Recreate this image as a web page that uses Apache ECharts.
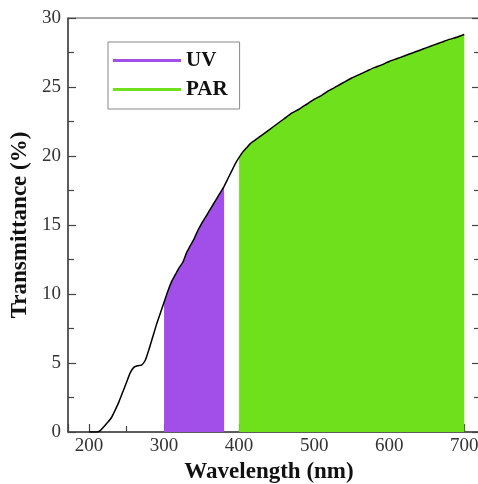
<!DOCTYPE html>
<html>
<head>
<meta charset="utf-8">
<script src="https://cdn.jsdelivr.net/npm/echarts@6/dist/echarts.min.js"></script>
<style>html,body{margin:0;padding:0;background:#fff}#c{width:478px;height:484px}</style>
</head>
<body>
<div id="c"></div>
<script>
const wavelengths = [200,210,215,220,225,230,235,240,245,250,255,260,265,270,275,280,285,290,295,300,305,310,315,320,325,330,335,340,345,350,355,360,365,370,375,380,385,390,395,400,405,410,415,420,425,430,440,450,460,470,480,490,500,510,520,530,540,550,560,570,580,590,600,610,620,630,640,650,660,670,680,690,700];
const transmittance = [0,0,0.1,0.4,0.7,1.05,1.6,2.2,2.9,3.6,4.3,4.7,4.8,4.85,5.2,6.0,6.9,7.8,8.6,9.4,10.2,10.9,11.4,11.9,12.3,13.0,13.5,14.0,14.6,15.1,15.55,16.0,16.45,16.9,17.35,17.8,18.35,18.9,19.45,19.9,20.3,20.6,20.9,21.1,21.3,21.5,21.9,22.3,22.7,23.1,23.4,23.75,24.1,24.4,24.75,25.05,25.35,25.65,25.9,26.15,26.4,26.6,26.85,27.05,27.25,27.45,27.65,27.85,28.05,28.25,28.45,28.6,28.8];
const uvRange = [300, 380];
const parRange = [400, 700];
const legendNames = ['UV', 'PAR'];
const yTicks = [0, 5, 10, 15, 20, 25, 30];

const all = wavelengths.map((w, i) => [w, transmittance[i]]);
const uv = all.filter(p => p[0] >= uvRange[0] && p[0] <= uvRange[1]);
const par = all.filter(p => p[0] >= parRange[0] && p[0] <= parRange[1]);

const serif = "'Liberation Serif', 'Times New Roman', serif";
const axisColor = '#444';
const chart = echarts.init(document.getElementById('c'));
chart.setOption({
  animation: false,
  grid: { left: 68, top: 18, width: 412, height: 414, show: true, borderColor: '#555', borderWidth: 1, containLabel: false, outerBoundsMode: 'none' },
  legend: {
    data: legendNames,
    orient: 'vertical',
    left: 108, top: 42,
    icon: 'rect',
    itemWidth: 68, itemHeight: 3,
    itemGap: 8,
    padding: [8, 12, 9, 5],
    borderColor: '#888', borderWidth: 1,
    textStyle: { fontFamily: serif, fontSize: 21, fontWeight: 'bold', color: '#111' }
  },
  xAxis: [{
    type: 'value', min: 172, max: 721, splitNumber: 5,
    name: 'Wavelength (nm)', nameLocation: 'middle', nameGap: 27,
    nameTextStyle: { fontFamily: serif, fontSize: 23, fontWeight: 'bold', color: '#111', padding: [0, 10, 0, 0] },
    axisLine: { show: true, lineStyle: { color: axisColor, width: 1.5 } },
    axisTick: { show: true, inside: true, length: 8, lineStyle: { color: axisColor, width: 1.2 } },
    minorTick: { show: true, splitNumber: 2, length: 6, lineStyle: { color: axisColor, width: 1.2 } },
    axisLabel: { showMinLabel: false, showMaxLabel: false, margin: 5, fontFamily: serif, fontSize: 19, color: '#333' },
    splitLine: { show: false }
  }],
  yAxis: [{
    type: 'value', min: yTicks[0], max: yTicks[yTicks.length - 1], interval: 5,
    name: 'Transmittance (%)', nameLocation: 'middle', nameGap: 36,
    nameTextStyle: { fontFamily: serif, fontSize: 23, fontWeight: 'bold', color: '#111' },
    axisLine: { show: true, lineStyle: { color: axisColor, width: 1.5 } },
    axisTick: { show: true, inside: true, length: 8, lineStyle: { color: axisColor, width: 1.2 } },
    minorTick: { show: true, splitNumber: 2, length: 6, lineStyle: { color: axisColor, width: 1.2 } },
    axisLabel: { margin: 7, fontFamily: serif, fontSize: 19, color: '#333' },
    splitLine: { show: false }
  }, {
    type: 'value', min: yTicks[0], max: yTicks[yTicks.length - 1], interval: 5, position: 'right',
    axisLine: { show: true, lineStyle: { color: axisColor, width: 1.5 } },
    axisTick: { show: true, inside: true, length: 8, lineStyle: { color: axisColor, width: 1.2 } },
    minorTick: { show: true, splitNumber: 2, length: 6, lineStyle: { color: axisColor, width: 1.2 } },
    axisLabel: { show: false },
    splitLine: { show: false }
  }],
  series: [
    {
      name: 'UV', type: 'line', data: uv, symbol: 'none', z: 2,
      itemStyle: { color: '#A24FEA' },
      lineStyle: { width: 0, color: '#A24FEA' },
      areaStyle: { color: '#A24FEA', opacity: 1 }
    },
    {
      name: 'PAR', type: 'line', data: par, symbol: 'none', z: 2,
      itemStyle: { color: '#6FE01C' },
      lineStyle: { width: 0, color: '#6FE01C' },
      areaStyle: { color: '#6FE01C', opacity: 1 }
    },
    {
      name: 'curve', type: 'line', data: all, symbol: 'none', z: 3, smooth: 0.2,
      lineStyle: { color: '#000', width: 1.5 },
      itemStyle: { color: '#000' }
    }
  ]
});
</script>
</body>
</html>
